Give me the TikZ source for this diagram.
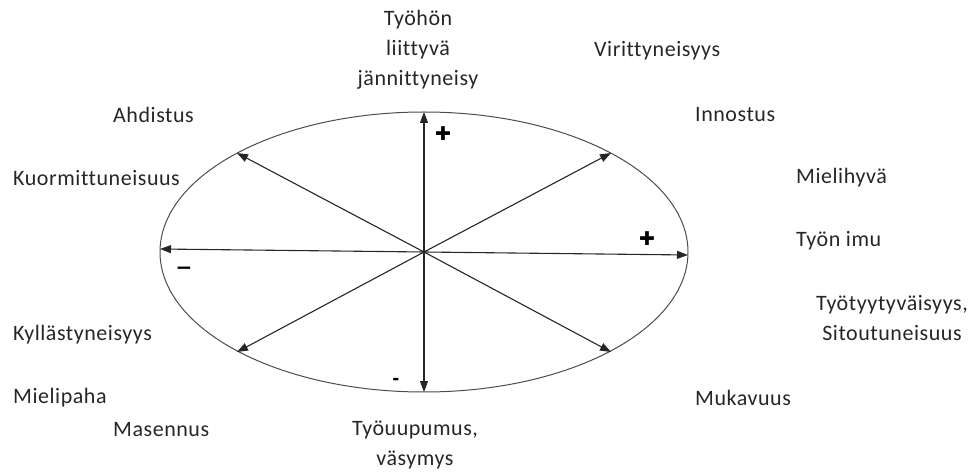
\documentclass[tikz,border=0pt]{standalone}
\usepackage{fontspec}
\setmainfont[Ligatures={NoCommon},Contextuals={NoAlternate},LetterSpace=2.5]{Carlito}
\newfontfamily\signfont{DejaVu Sans}
\usetikzlibrary{arrows.meta}
\begin{document}
\begin{tikzpicture}[x=1pt,y=-1pt,
  lbl/.style={inner sep=0pt,font=\fontsize{22}{30}\selectfont,text=black!85},
  arr/.style={draw=black!85,line width=1.1pt,-{Triangle[length=11pt,width=8pt]}},
  sgn/.style={inner sep=0pt,font=\signfont\fontsize{20}{20}\selectfont\bfseries},
  plussgn/.style={inner sep=0pt,font=\signfont\fontsize{19}{19}\selectfont}]
\useasboundingbox (0,0) rectangle (978,473);
\coordinate (c) at (424,252);
\draw[black!70,line width=1pt] (c) ellipse [x radius=264,y radius=140];
\coordinate (n) at (424,112);
\coordinate (s) at (424,392);
\coordinate (w) at (160,249);
\coordinate (e) at (688,255);
\coordinate (nw) at (237,153);
\coordinate (ne) at (611,153);
\coordinate (sw) at (237,352);
\coordinate (se) at (611,352);
\foreach \t in {n,s,w,e,nw,ne,sw,se} \draw[arr] (c) -- (\t);
% signs
\node[plussgn] (p1) at (443,134) {✚};
\node[plussgn] (p2) at (647,239) {✚};
\node[sgn] (m1) at (184,271) {−};
\node[sgn,font=\signfont\fontsize{17}{17}\selectfont\bfseries] (m2) at (396,381) {-};
% labels
\node[lbl,align=center] (top) at (418,50) {Työhön\\liittyvä\\jännittyneisy};
\node[lbl,anchor=west] (vir) at (594,51) {Virittyneisyys};
\node[lbl,anchor=west] (ahd) at (113,115) {Ahdistus};
\node[lbl,anchor=west] (inn) at (695,115) {Innostus};
\node[lbl,anchor=west] (kuo) at (13,178) {Kuormittuneisuus};
\node[lbl,anchor=west] (mie) at (796,178) {Mielihyvä};
\node[lbl,anchor=west] (imu) at (796,241) {Työn imu};
\node[lbl,align=center] (tyy) at (892,318) {Työtyytyväisyys,\\Sitoutuneisuus};
\node[lbl,anchor=west] (kyl) at (13,335) {Kyllästyneisyys};
\node[lbl,anchor=west] (mpa) at (13,398) {Mielipaha};
\node[lbl,anchor=west] (muk) at (695,398) {Mukavuus};
\node[lbl,anchor=west] (mas) at (113,430) {Masennus};
\node[lbl,align=center] (uup) at (415,445) {Työuupumus,\\väsymys};
\end{tikzpicture}
\end{document}
